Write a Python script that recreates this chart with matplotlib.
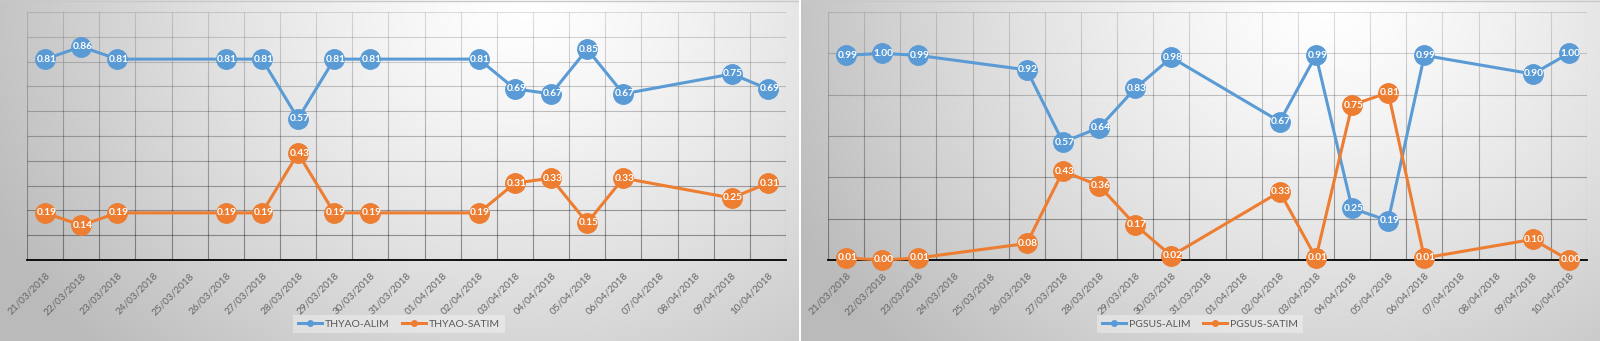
import numpy as np
import matplotlib.pyplot as plt
from matplotlib.collections import LineCollection

plt.rcParams['font.family'] = ['Lato', 'DejaVu Sans']

dates = ['21/03/2018', '22/03/2018', '23/03/2018', '24/03/2018', '25/03/2018',
         '26/03/2018', '27/03/2018', '28/03/2018', '29/03/2018', '30/03/2018',
         '31/03/2018', '01/04/2018', '02/04/2018', '03/04/2018', '04/04/2018',
         '05/04/2018', '06/04/2018', '07/04/2018', '08/04/2018', '09/04/2018',
         '10/04/2018']
nan = np.nan

# weekends have no value, the line just joins over them
thyao_alim = [0.81, 0.86, 0.81, nan, nan, 0.81, 0.81, 0.57, 0.81, 0.81,
              nan, nan, 0.81, 0.69, 0.67, 0.85, 0.67, nan, nan, 0.75, 0.69]
thyao_satim = [0.19, 0.14, 0.19, nan, nan, 0.19, 0.19, 0.43, 0.19, 0.19,
               nan, nan, 0.19, 0.31, 0.33, 0.15, 0.33, nan, nan, 0.25, 0.31]
pgsus_alim = [0.99, 1.00, 0.99, nan, nan, 0.92, 0.57, 0.64, 0.83, 0.98,
              nan, nan, 0.67, 0.99, 0.25, 0.19, 0.99, nan, nan, 0.90, 1.00]
pgsus_satim = [0.01, 0.00, 0.01, nan, nan, 0.08, 0.43, 0.36, 0.17, 0.02,
               nan, nan, 0.33, 0.01, 0.75, 0.81, 0.01, nan, nan, 0.10, 0.00]

BLUE = '#5B9BD5'
ORANGE = '#ED7D31'
W, H = 1600, 341

fig = plt.figure(figsize=(16, 3.41), dpi=100, facecolor='white')


def background(x0, w):
    ax = fig.add_axes([x0 / W, 0, w / W, 1])
    gx, gy = np.meshgrid(np.linspace(0, 1, 400), np.linspace(0, 1, 170))
    d = np.sqrt(((gx - 0.66) / 0.75) ** 2 + (gy / 1.5) ** 2)
    d = np.clip(d, 0, 1) ** 1.3
    v = 1.0 - 0.27 * d
    ax.imshow(np.dstack([v, v, v]), aspect='auto', extent=(0, 1, 1, 0))
    ax.plot([0, 1], [0.004, 0.004], color='#c8c8c8', lw=1)
    ax.set_xlim(0, 1)
    ax.set_ylim(1, 0)
    ax.axis('off')


def grid(ax, ymax, ystep):
    # gridlines fade out towards the top of the plot
    segs, alphas = [], []
    for y in np.arange(0, ymax + 1e-9, ystep):
        segs.append([(-0.5, y), (len(dates) - 0.5, y)])
        alphas.append(0.12 + 0.28 * (1 - y / ymax))
    ys = np.linspace(0, ymax, 25)
    for xb in np.arange(-0.5, len(dates)):
        for a, b in zip(ys[:-1], ys[1:]):
            segs.append([(xb, a), (xb, b)])
            alphas.append(0.12 + 0.28 * (1 - (a + b) / 2 / ymax))
    colors = [(0, 0, 0, a) for a in alphas]
    ax.add_collection(LineCollection(segs, colors=colors, lw=0.8, zorder=1))


def panel(x0, series, names, ymax, ystep):
    ax = fig.add_axes([(x0 + 27) / W, (H - 260) / H, 759 / W, 248 / H])
    ax.patch.set_alpha(0)
    x = np.arange(len(dates))
    grid(ax, ymax, ystep)
    for vals, color, name in zip(series, [BLUE, ORANGE], names):
        v = np.array(vals)
        ok = ~np.isnan(v)
        ax.plot(x[ok], v[ok], color=color, lw=2.2, marker='o', ms=14,
                mec=color, label=name, zorder=3, clip_on=False)
        for xi, yi in zip(x[ok], v[ok]):
            ax.text(xi + 0.04, yi, '%.2f' % yi, color='white', fontsize=7.3,
                    fontweight='bold', ha='center', va='center', zorder=4)
    ax.set_xlim(-0.5, len(dates) - 0.5)
    ax.set_ylim(0, ymax)
    ax.set_xticks(x)
    ax.set_xticklabels(dates, rotation=45, ha='right', va='top',
                       rotation_mode='anchor', color='#666666', fontsize=7.2)
    ax.tick_params(axis='x', length=0, pad=8)
    ax.set_yticks([])
    for s in ['top', 'left', 'right']:
        ax.spines[s].set_visible(False)
    ax.spines['bottom'].set_linewidth(1.3)
    ax.spines['bottom'].set_zorder(2)

    handles = [plt.Line2D([], [], color=c, lw=2.2, marker='o', ms=4)
               for c in [BLUE, ORANGE]]
    leg = fig.legend(handles, names, loc='center', ncol=2,
                     bbox_to_anchor=((x0 + 399) / W, 17 / H),
                     frameon=True, fontsize=7.5, handlelength=2.3,
                     handletextpad=0.3, columnspacing=1.2, borderpad=0.45,
                     fancybox=False)
    leg.get_frame().set_facecolor('white')
    leg.get_frame().set_alpha(0.35)
    leg.get_frame().set_edgecolor('none')
    for t in leg.get_texts():
        t.set_color('#595959')


background(0, 799)
background(801, 799)
panel(0, [thyao_alim, thyao_satim], ['THYAO-ALIM', 'THYAO-SATIM'], 1.0, 0.1)
panel(801, [pgsus_alim, pgsus_satim], ['PGSUS-ALIM', 'PGSUS-SATIM'], 1.2, 0.2)

fig.savefig('out.png', dpi=100, facecolor='white')
